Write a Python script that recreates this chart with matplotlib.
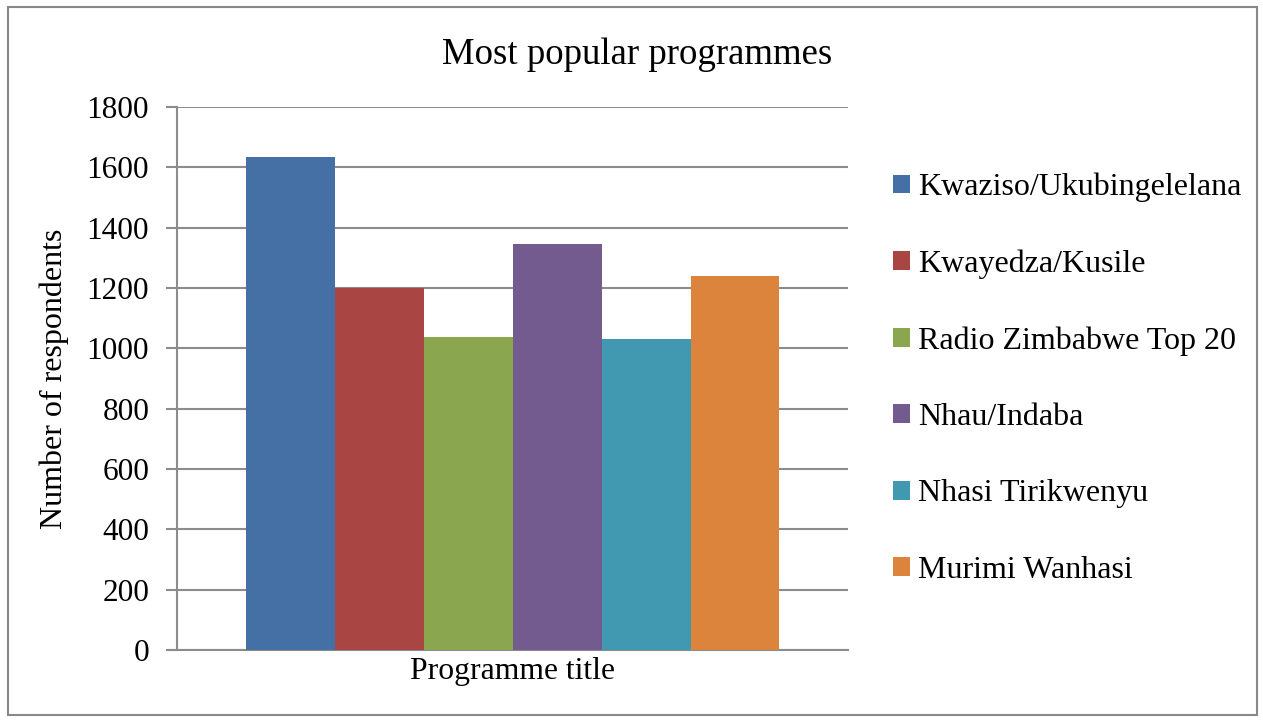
import matplotlib.pyplot as plt
from matplotlib.patches import Rectangle

plt.rcParams['font.family'] = ['Liberation Serif', 'DejaVu Serif']

programmes = ['Kwaziso/Ukubingelelana', 'Kwayedza/Kusile', 'Radio Zimbabwe Top 20',
              'Nhau/Indaba', 'Nhasi Tirikwenyu', 'Murimi Wanhasi']
respondents = [1635, 1200, 1036, 1347, 1031, 1240]
colors = ['#4470A6', '#A94543', '#8AA64F', '#735A8F', '#4198B1', '#DC843B']
yticks = [0, 200, 400, 600, 800, 1000, 1200, 1400, 1600, 1800]

fig = plt.figure(figsize=(12.63, 7.2), dpi=100)
ax = fig.add_axes([0.1401, 0.0972, 0.5313, 0.7542])

for i in range(len(programmes)):
	ax.bar(i, respondents[i], 1.0, color=colors[i], label=programmes[i], zorder=3)

ax.set_xlim(-1.275, 6.27)
ax.set_ylim(0, 1800)
ax.set_yticks(yticks)
ax.set_xticks([])
ax.yaxis.grid(True, color='#8c8c8c', linewidth=1.5, zorder=0)
ax.tick_params(axis='y', length=8, width=1.5, color='#8c8c8c', labelsize=22.5, pad=12)
for s in ['top', 'right']:
	ax.spines[s].set_visible(False)
ax.spines['left'].set_color('#8c8c8c')
ax.spines['left'].set_linewidth(1.5)
ax.spines['bottom'].set_color('#8c8c8c')
ax.spines['bottom'].set_linewidth(1.5)
ax.spines['bottom'].set_bounds(-1.275 - 0.09, 6.27)
ax.spines['bottom'].set_clip_on(False)

ax.set_ylabel('Number of respondents', size=23, labelpad=13)
ax.set_xlabel('Programme title', size=22.8, labelpad=5)
fig.text(0.5044, 0.924, 'Most popular programmes', size=26.5, ha='center', va='center')

ax.legend(loc='upper left', bbox_to_anchor=(0.7072, 0.760), bbox_transform=fig.transFigure,
          frameon=False, fontsize=23, handlelength=0.53, handleheight=0.53,
          handletextpad=0.25, labelspacing=1.48, borderpad=0, borderaxespad=0)

fig.patches.append(Rectangle((8 / 1263, 5 / 720), 1249 / 1263, 708 / 720, transform=fig.transFigure,
                             fill=False, edgecolor='#888888', linewidth=1.5))

plt.savefig('out.png', dpi=100)
